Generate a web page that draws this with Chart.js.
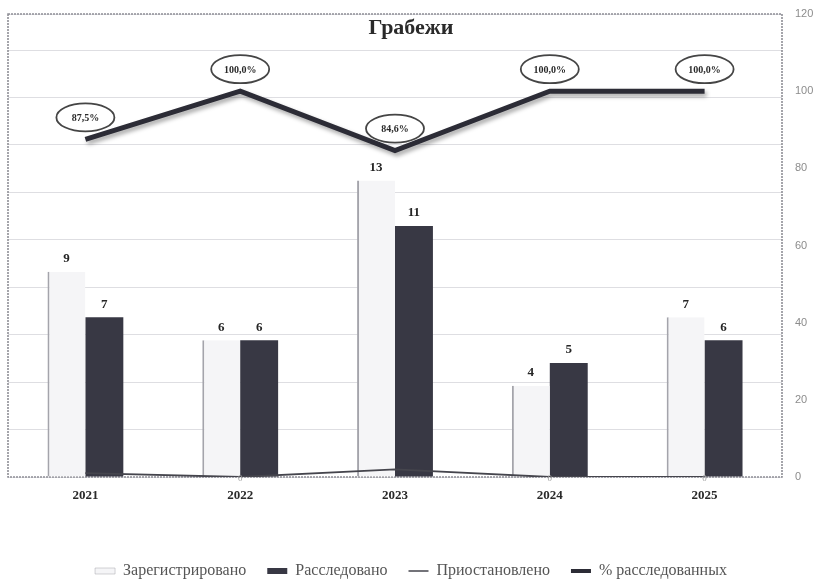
<!DOCTYPE html>
<html>
<head>
<meta charset="utf-8">
<script src="https://cdn.jsdelivr.net/npm/chart.js@4.4.1/dist/chart.umd.min.js"></script>
<style>
  html, body { margin: 0; padding: 0; background: #ffffff; }
  #wrap { width: 823px; height: 580px; }
</style>
</head>
<body>
<div id="wrap"><canvas id="c" width="823" height="580"></canvas></div>
<script>
const categories = ['2021', '2022', '2023', '2024', '2025'];
const registered = [9, 6, 13, 4, 7];
const investigated = [7, 6, 11, 5, 6];
const suspended = [1, 0, 2, 0, 0];
const percentInvestigated = [87.5, 100, 84.6, 100, 100];
const seriesNames = ['Зарегистрировано', 'Расследовано', 'Приостановлено', '% расследованных'];
const chartTitle = 'Грабежи';

const SERIF = '"Liberation Serif", "DejaVu Serif", serif';

const borderPlugin = {
  id: 'plotBorder',
  beforeDatasetsDraw(chart) {
    const a = chart.chartArea, ctx = chart.ctx;
    ctx.save();
    ctx.strokeStyle = '#8f8f96';
    ctx.lineWidth = 1.6;
    ctx.setLineDash([2, 1]);
    ctx.strokeRect(a.left, a.top, a.right - a.left, a.bottom - a.top);
    ctx.restore();
  }
};

const shadowPlugin = {
  id: 'lineShadow',
  beforeDatasetDraw(chart, args) {
    if (args.index === 3) {
      const ctx = chart.ctx;
      ctx.save();
      ctx.shadowColor = 'rgba(0,0,0,0.35)';
      ctx.shadowBlur = 4;
      ctx.shadowOffsetX = 2;
      ctx.shadowOffsetY = 3;
    }
  },
  afterDatasetDraw(chart, args) {
    if (args.index === 3) chart.ctx.restore();
  }
};

const labelPlugin = {
  id: 'valueLabels',
  afterDatasetsDraw(chart) {
    const ctx = chart.ctx;
    ctx.save();
    [0, 1].forEach(di => {
      const meta = chart.getDatasetMeta(di);
      const data = chart.data.datasets[di].data;
      meta.data.forEach((el, i) => {
        ctx.font = 'bold 13px ' + SERIF;
        ctx.fillStyle = '#262626';
        ctx.textAlign = 'center';
        ctx.textBaseline = 'middle';
        ctx.fillText(String(data[i]), el.x, el.y - 13);
      });
    });
    {
      const meta = chart.getDatasetMeta(2);
      const data = chart.data.datasets[2].data;
      meta.data.forEach((el, i) => {
        if (data[i] === 0) {
          ctx.font = '9px ' + SERIF;
          ctx.fillStyle = '#9a9a9a';
          ctx.textAlign = 'center';
          ctx.textBaseline = 'middle';
          ctx.fillText('0', el.x, el.y + 2);
        }
      });
    }
    {
      const meta = chart.getDatasetMeta(3);
      const data = chart.data.datasets[3].data;
      meta.data.forEach((el, i) => {
        const cx = el.x, cy = el.y - 22;
        ctx.beginPath();
        ctx.ellipse(cx, cy, 29, 14, 0, 0, Math.PI * 2);
        ctx.fillStyle = '#ffffff';
        ctx.fill();
        ctx.lineWidth = 1.8;
        ctx.strokeStyle = '#454545';
        ctx.stroke();
        ctx.font = 'bold 10px ' + SERIF;
        ctx.fillStyle = '#2a2a2a';
        ctx.textAlign = 'center';
        ctx.textBaseline = 'middle';
        ctx.fillText(data[i].toFixed(1).replace('.', ',') + '%', cx, cy + 1);
      });
    }
    ctx.restore();
  }
};

new Chart(document.getElementById('c'), {
  type: 'bar',
  data: {
    labels: categories,
    datasets: [
      {
        label: seriesNames[0],
        data: registered,
        yAxisID: 'y',
        backgroundColor: '#f5f5f7',
        borderColor: '#a4a4ab',
        borderWidth: { left: 2, top: 0, right: 0, bottom: 0 },
        borderSkipped: false,
        pointStyle: 'rect',
        order: 3,
        categoryPercentage: 0.49,
        barPercentage: 1.0
      },
      {
        label: seriesNames[1],
        data: investigated,
        yAxisID: 'y',
        backgroundColor: '#383844',
        borderWidth: 0,
        pointStyle: 'rect',
        order: 3,
        categoryPercentage: 0.49,
        barPercentage: 1.0
      },
      {
        type: 'line',
        label: seriesNames[2],
        data: suspended,
        yAxisID: 'y1',
        borderColor: '#45454d',
        borderWidth: 1.8,
        pointRadius: 0,
        pointHoverRadius: 0,
        pointStyle: 'line',
        pointBorderColor: '#45454d',
        pointBorderWidth: 1.5,
        tension: 0,
        fill: false,
        order: 2
      },
      {
        type: 'line',
        label: seriesNames[3],
        data: percentInvestigated,
        yAxisID: 'y1',
        borderColor: '#2c2c36',
        borderWidth: 5,
        borderJoinStyle: 'miter',
        pointRadius: 0,
        pointHoverRadius: 0,
        pointStyle: 'line',
        pointBorderColor: '#2c2c36',
        pointBorderWidth: 4,
        tension: 0,
        fill: false,
        order: 1
      }
    ]
  },
  options: {
    responsive: false,
    animation: false,
    layout: { padding: { left: 8, right: 9, top: 0, bottom: -9 } },
    plugins: {
      tooltip: { enabled: false },
      title: {
        display: true,
        text: chartTitle,
        color: '#2a2a2a',
        font: { family: SERIF, size: 22, weight: 'bold', lineHeight: 1.2 },
        padding: { top: 15, bottom: -27.4 }
      },
      legend: {
        position: 'bottom',
        labels: {
          usePointStyle: true,
          pointStyleWidth: 20,
          boxHeight: 6,
          padding: 21,
          color: '#555555',
          font: { family: SERIF, size: 16 },
          sort: (a, b) => a.datasetIndex - b.datasetIndex
        }
      }
    },
    scales: {
      x: {
        grid: { display: false, drawTicks: false },
        border: { display: false },
        ticks: {
          color: '#2a2a2a',
          padding: 11,
          font: { family: SERIF, size: 13, weight: 'bold' }
        },
        afterFit(scale) { scale.height = 65; }
      },
      y: {
        position: 'left',
        min: 0,
        max: 20.3,
        grid: { color: '#dedee2', lineWidth: 1, drawTicks: false },
        border: { display: false },
        ticks: { display: false, stepSize: 2.08 }
      },
      y1: {
        position: 'right',
        min: 0,
        max: 120,
        grid: { display: false, drawTicks: false },
        border: { display: false },
        ticks: {
          stepSize: 20,
          padding: 13,
          color: '#8c8c8c',
          font: { family: '"Liberation Sans", Arial, sans-serif', size: 11 }
        },
        afterFit(scale) { scale.width = 32; scale.paddingTop = 0; scale.paddingBottom = 0; }
      }
    }
  },
  plugins: [borderPlugin, shadowPlugin, labelPlugin]
});
</script>
</body>
</html>
